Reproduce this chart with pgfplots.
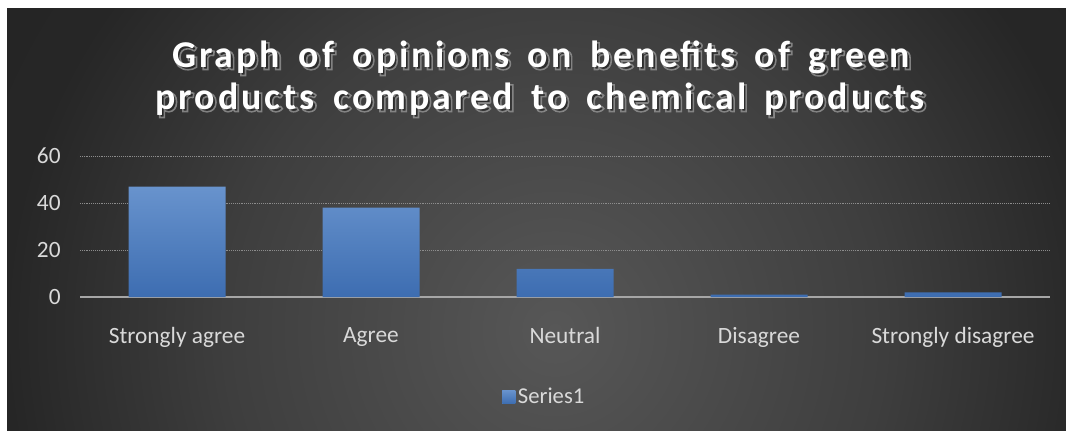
\documentclass[border=0pt]{standalone}
\usepackage{pgfplots}
\pgfplotsset{compat=1.18}
\usepackage{fontspec}
\setmainfont{Carlito}
\newfontfamily\titlefont[LetterSpace=8, WordSpace=1.6]{Carlito}

\definecolor{barTop}{HTML}{6893CD}
\definecolor{barBot}{HTML}{3D6DB1}
\definecolor{tickText}{HTML}{D9D9D9}
\definecolor{gridC}{HTML}{8C8C8C}
\definecolor{axisC}{HTML}{A6A6A6}
\definecolor{bgA}{HTML}{575757}
\definecolor{bgB}{HTML}{3E3E3E}
\definecolor{bgC}{HTML}{262626}
\definecolor{bgD}{HTML}{202020}

\pgfdeclareradialshading{chartbg}{\pgfpointorigin}{%
  color(0bp)=(bgA); color(15bp)=(bgB); color(25bp)=(bgC); color(50bp)=(bgD)}

% glyphs filled and stroked with a light grey rim (text render mode 2)
\newcommand\rimmed[1]{%
  \special{pdf:literal direct q 2 Tr 1.2 w 0.62 0.62 0.62 RG}#1\special{pdf:literal direct Q}}

% one line of the title: rimmed drop shadow under white text
\newcommand\titleline[3]{%
  \node[anchor=base, text=black!85, opacity=0.75] at (#1+2,#2-2.5) {\rimmed{#3}};
  \node[anchor=base, text=white] at (#1,#2) {#3};
}

\begin{document}
\begin{tikzpicture}
\begin{scope}[x=0.75pt,y=0.75pt]
  \fill[white] (0,0) rectangle (1066,430);
  \begin{scope}
    \clip (7,0) rectangle (1066,422);
    \shade[shading=chartbg] (5,-450) rectangle (1105,650);
  \end{scope}
  \begin{scope}[font=\titlefont\bfseries\fontsize{28.4}{32}\selectfont]
    \titleline{541}{363}{Graph of opinions on benefits of green}
    \titleline{540}{321}{products compared to chemical products}
  \end{scope}
\end{scope}

\begin{axis}[
  at={(60pt,99.75pt)}, anchor=south west,
  scale only axis, width=727.5pt, height=105.75pt,
  xmin=-0.5, xmax=4.5, ymin=0, ymax=60,
  xtick={0,...,4},
  xticklabels={Strongly agree,Agree,Neutral,Disagree,Strongly disagree},
  ytick={0,20,40,60},
  axis x line*=bottom, axis y line*=left,
  y axis line style={draw=none},
  x axis line style={axisC, line width=1.5pt, -},
  major tick length=0pt,
  ymajorgrids,
  grid style={densely dotted, gridC, line width=0.6pt},
  tick label style={text=tickText, font=\fontsize{17.5}{20}\selectfont},
  /pgf/number format/assume math mode=true,
  yticklabel style={xshift=-11pt},
  xticklabel style={yshift=-19pt},
  ybar, bar width=72.75pt,
  legend style={at={(0.479,-0.709)}, anchor=center, draw=none, fill=none,
    text=tickText, font=\fontsize{17}{20}\selectfont},
  legend image code/.code={\fill[barTop!55!barBot] (0pt,-5pt) rectangle (9.75pt,5pt);},
]
\addplot[draw=none, top color=barTop, bottom color=barBot, bar shift=0pt]
  coordinates {(0,47) (1,38) (2,12) (3,1) (4,2)};
\legend{Series1}
\end{axis}

\begin{scope}[x=0.75pt,y=0.75pt]
  \pgfresetboundingbox
  \useasboundingbox (0,0) rectangle (1066,430);
\end{scope}
\end{tikzpicture}
\end{document}
